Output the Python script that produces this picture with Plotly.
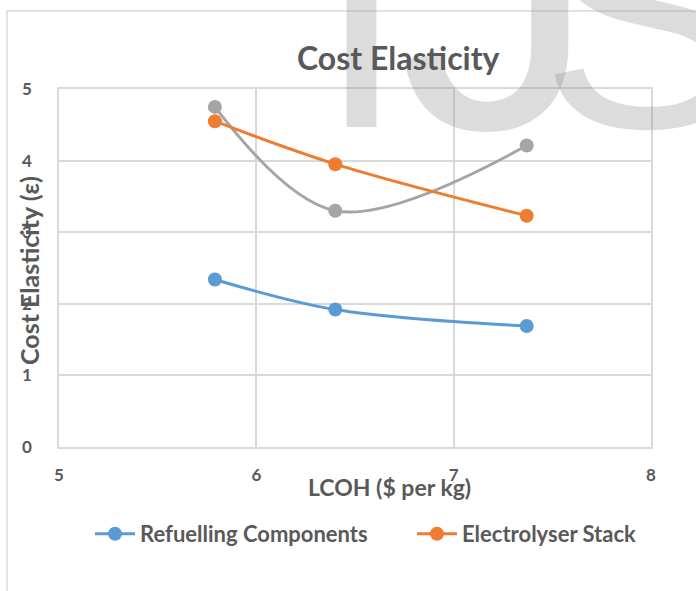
import plotly.graph_objects as go

# ---- data ----
lcoh = [5.79, 6.40, 7.37]
refuelling_components = [2.34, 1.92, 1.69]
electrolyser_stack = [4.55, 3.95, 3.23]
third_series = [4.75, 3.30, 4.21]

x_ticks = [5, 6, 7, 8]
y_ticks = [0, 1, 2, 3, 4, 5]

TXT = "#595959"
GRID = "#d9d9d9"
FONT = "Lato"

W, H = 696, 591
L, R, T, B = 59, 45, 89, 144
PW, PH = W - L - R, H - T - B


def px(x):
    return (x - L) / PW


def py(y):
    return (H - B - y) / PH


fig = go.Figure()

fig.add_trace(go.Scatter(
    x=lcoh, y=third_series, mode="lines+markers", name="Series 3",
    line=dict(color="#A5A5A5", width=3, shape="spline", smoothing=1),
    marker=dict(size=14, color="#A5A5A5"), showlegend=False))
fig.add_trace(go.Scatter(
    x=lcoh, y=electrolyser_stack, mode="lines+markers", name="Electrolyser Stack",
    line=dict(color="#ED7D31", width=3, shape="spline", smoothing=1),
    marker=dict(size=14, color="#ED7D31"), legend="legend2"))
fig.add_trace(go.Scatter(
    x=lcoh, y=refuelling_components, mode="lines+markers", name="Refuelling Components",
    line=dict(color="#5B9BD5", width=3, shape="spline", smoothing=1),
    marker=dict(size=14, color="#5B9BD5"), legend="legend"))

WM_COLOR = "rgba(150,150,150,0.33)"
annotations = [
    # watermark letters
    dict(text="I", x=px(315), y=py(197), xref="paper", yref="paper",
         xanchor="left", yanchor="bottom", showarrow=False,
         font=dict(family="Liberation Sans", size=320, color=WM_COLOR)),
    dict(text="J", x=px(396), y=py(215), xref="paper", yref="paper",
         xanchor="left", yanchor="bottom", showarrow=False,
         font=dict(family="Liberation Sans", size=400, color=WM_COLOR)),
    dict(text="S", x=px(538), y=py(197), xref="paper", yref="paper",
         xanchor="left", yanchor="bottom", showarrow=False,
         font=dict(family="Liberation Sans", size=320, color=WM_COLOR)),
    # title
    dict(text="<b>Cost Elasticity</b>", x=px(398), y=py(58), xref="paper", yref="paper",
         xanchor="center", yanchor="middle", showarrow=False,
         font=dict(family=FONT, size=32, color=TXT)),
    # y title
    dict(text="<b>Cost Elasticity (ε)</b>", x=px(29), y=py(271), xref="paper", yref="paper",
         xanchor="center", yanchor="middle", showarrow=False, textangle=-90,
         font=dict(family=FONT, size=25, color=TXT)),
    # x title
    dict(text="<b>LCOH ($ per kg)</b>", x=px(389), y=py(487), xref="paper", yref="paper",
         xanchor="center", yanchor="middle", showarrow=False,
         font=dict(family=FONT, size=23, color=TXT)),
]

shapes = [
    dict(type="path", xref="paper", yref="paper",
         path=f"M {px(7)} {py(600)} L {px(7)} {py(11)} L {px(700)} {py(11)}",
         line=dict(color=GRID, width=1.5)),
]

LEG_FONT = dict(family=FONT, size=22, color=TXT, weight="bold")
fig.update_layout(
    width=W, height=H,
    margin=dict(l=L, r=R, t=T, b=B, autoexpand=False),
    paper_bgcolor="white", plot_bgcolor="white",
    annotations=annotations, shapes=shapes,
    legend=dict(orientation="h", x=px(90), y=py(534), xanchor="left", yanchor="middle",
                font=LEG_FONT, itemwidth=40),
    legend2=dict(orientation="h", x=px(412), y=py(534), xanchor="left", yanchor="middle",
                 font=LEG_FONT, itemwidth=40),
    font=dict(family=FONT, color=TXT),
)

fig.update_xaxes(range=[5, 8], tickvals=x_ticks, ticktext=[f"<b>{v}</b>" for v in x_ticks],
                 showgrid=True, gridcolor=GRID, gridwidth=1.5, zeroline=False,
                 showline=True, linecolor=GRID, linewidth=1.5, mirror=True,
                 ticks="", ticklabelstandoff=12,
                 tickfont=dict(family=FONT, size=17, color=TXT))
fig.update_yaxes(range=[0, 5], tickvals=y_ticks, ticktext=[f"<b>{v}</b>" for v in y_ticks],
                 showgrid=True, gridcolor=GRID, gridwidth=1.5, zeroline=False,
                 showline=True, linecolor=GRID, linewidth=1.5, mirror=True,
                 ticks="", ticklabelstandoff=22,
                 tickfont=dict(family=FONT, size=17, color=TXT))

fig.write_html("out.html", config={"displayModeBar": False},
               post_script="document.body.style.margin='0';")
